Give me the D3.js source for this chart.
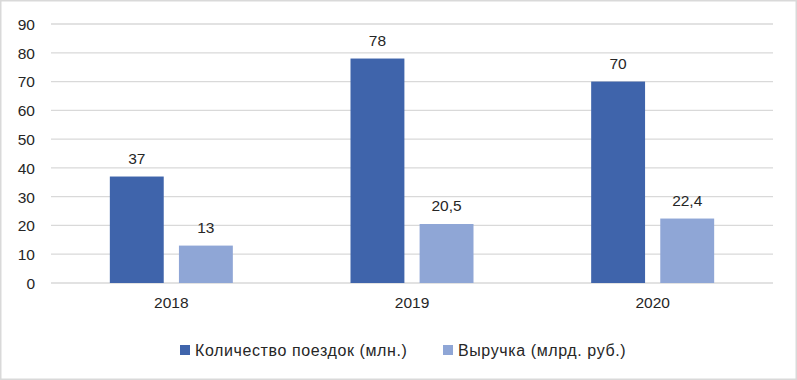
<!DOCTYPE html>
<html><head><meta charset="utf-8">
<script src="https://cdn.jsdelivr.net/npm/d3@7"></script>
<style>body{margin:0;background:#fff}svg{display:block;font-family:"Liberation Sans",Arial,sans-serif}</style>
</head><body><svg id="c" width="797" height="380"></svg>
<script>
const categories = ["2018","2019","2020"];
const seriesNames = ["Количество поездок (млн.)","Выручка (млрд. руб.)"];
const trips = [37,78,70];
const revenue = [13,20.5,22.4];
const labelsTrips = ["37","78","70"];
const labelsRevenue = ["13","20,5","22,4"];
const yTicks = [0,10,20,30,40,50,60,70,80,90];
const colors = ["#3F64AB","#8FA6D6"];

const svg = d3.select("#c");
svg.append("rect").attr("x",0.75).attr("y",0.75).attr("width",795.5).attr("height",378.5)
  .attr("fill","#fff").attr("stroke","#d9d9d9").attr("stroke-width",1.5);

const x0 = d3.scaleBand().domain(categories).range([51,773]);
const y = d3.scaleLinear().domain([0,90]).range([283,24]);
const x1 = d3.scaleBand().domain([0,1]).range([0,123]).paddingInner(0.22);

svg.append("g").selectAll("line").data(yTicks).join("line")
  .attr("x1",51).attr("x2",773).attr("y1",d=>y(d)).attr("y2",d=>y(d))
  .attr("stroke","#d9d9d9").attr("stroke-width",1.3);

const yAxis = d3.axisLeft(y).tickValues(yTicks).tickSize(0).tickPadding(0);
const ga = svg.append("g").attr("transform","translate(35,0)").call(yAxis);
ga.select(".domain").remove();
ga.selectAll("text").attr("font-size",15.5).attr("fill","#262626").attr("font-family","inherit").attr("dy","0.35em");

const xAxis = d3.axisBottom(x0).tickSize(0).tickPadding(0);
const gx = svg.append("g").attr("transform","translate(0,303)").call(xAxis);
gx.select(".domain").remove();
gx.selectAll("text").attr("font-size",15.5).attr("fill","#262626").attr("font-family","inherit").attr("dy","0.35em");

const series = [trips, revenue];
const labels = [labelsTrips, labelsRevenue];
series.forEach((vals, s) => {
  const g = svg.append("g");
  const off = d => x0(d) + x0.bandwidth()/2 - 61.5 + x1(s);
  g.selectAll("rect").data(categories).join("rect")
    .attr("x", off).attr("width", x1.bandwidth())
    .attr("y",(d,i)=>y(vals[i])).attr("height",(d,i)=>y(0)-y(vals[i]))
    .attr("fill",colors[s]);
  g.selectAll("text").data(categories).join("text")
    .attr("x", d=>off(d)+x1.bandwidth()/2).attr("y",(d,i)=>y(vals[i])-13)
    .attr("text-anchor","middle").attr("font-size",15.5).attr("fill","#262626")
    .text((d,i)=>labels[s][i]);
});

const legendX = [180, 443];
seriesNames.forEach((n,i)=>{
  svg.append("rect").attr("x",legendX[i]).attr("y",345).attr("width",10).attr("height",10).attr("fill",colors[i]);
  svg.append("text").attr("x",legendX[i]+15).attr("y",350).attr("dy","0.35em")
    .attr("font-size",16).attr("letter-spacing",0.6).attr("fill","#262626").text(n);
});
</script></body></html>
